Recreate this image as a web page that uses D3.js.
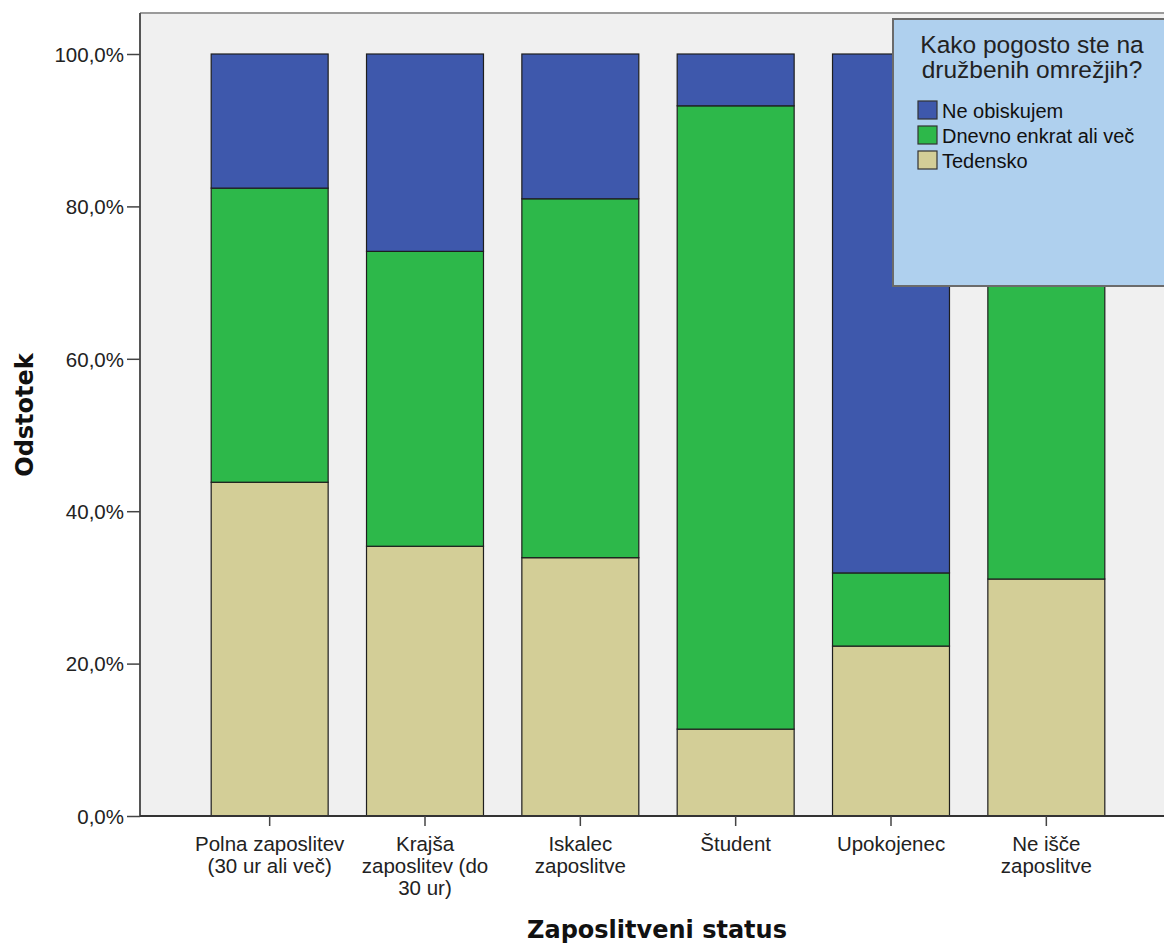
<!DOCTYPE html>
<html><head><meta charset="utf-8">
<script src="https://cdn.jsdelivr.net/npm/d3@7/dist/d3.min.js"></script>
<style>body{margin:0;background:#fff}svg{display:block}</style>
</head><body><svg id="c" width="1164" height="945"></svg>
<script>
const categories = ["Polna zaposlitev|(30 ur ali več)", "Krajša|zaposlitev (do|30 ur)", "Iskalec|zaposlitve", "Študent", "Upokojenec", "Ne išče|zaposlitve"];
const seriesNames = ["Tedensko", "Dnevno enkrat ali več", "Ne obiskujem"];
const tedensko = [43.8, 35.4, 33.9, 11.4, 22.3, 31.1];
const dnevno = [38.6, 38.7, 47.1, 81.8, 9.6, 47.0];
const neObiskujem = [17.6, 25.9, 19.0, 6.8, 68.1, 21.9];
const yTicks = [0, 20, 40, 60, 80, 100];
const legendOrder = ["Ne obiskujem", "Dnevno enkrat ali več", "Tedensko"];
const colors = {"Tedensko": "#d3ce97", "Dnevno enkrat ali več": "#2db84a", "Ne obiskujem": "#3e58ac"};

const svg = d3.select("#c");
const plotL = 140, plotR = 1164, plotT = 13, plotB = 816;
const sans = "Liberation Sans, Arial, sans-serif";
const x = d3.scaleBand().domain(categories).range([192, 1124]).paddingInner(0.247).paddingOuter(0.1235);
const y = d3.scaleLinear().domain([0, 100]).range([816, 54]);

svg.append("rect").attr("x", plotL).attr("y", plotT).attr("width", plotR - plotL).attr("height", plotB - plotT).attr("fill", "#f0f0f0");
svg.append("line").attr("x1", plotL).attr("x2", plotR).attr("y1", plotT).attr("y2", plotT).attr("stroke", "#9a9a9a").attr("stroke-width", 2);

const rows = categories.map((c, i) => ({cat: c, "Tedensko": tedensko[i], "Dnevno enkrat ali več": dnevno[i], "Ne obiskujem": neObiskujem[i]}));
const stack = d3.stack().keys(seriesNames)(rows);
svg.append("g").selectAll("g").data(stack).join("g").attr("fill", d => colors[d.key])
  .selectAll("rect").data(d => d).join("rect")
  .attr("x", d => x(d.data.cat)).attr("width", x.bandwidth())
  .attr("y", d => y(d[1])).attr("height", d => y(d[0]) - y(d[1]))
  .attr("stroke", "#1e1e1e").attr("stroke-width", 1.2);

// y axis
const ya = svg.append("g").attr("transform", `translate(${plotL},0)`)
  .call(d3.axisLeft(y).tickValues(yTicks).tickSize(13).tickPadding(3).tickFormat(d => d3.format(".1f")(d).replace(".", ",") + "%"));
ya.select(".domain").attr("stroke", "#555").attr("stroke-width", 2).attr("d", `M0,${plotT}V${plotB}`);
ya.selectAll(".tick line").attr("stroke", "#444").attr("stroke-width", 1.5);
ya.selectAll("text").attr("font-family", sans).attr("font-size", 20.5).attr("fill", "#222").attr("dy", "0.36em");

// x axis
const xa = svg.append("g").attr("transform", `translate(0,${plotB})`)
  .call(d3.axisBottom(x).tickSize(10).tickFormat(""));
xa.select(".domain").attr("stroke", "#333").attr("stroke-width", 2).attr("d", `M${plotL},0H${plotR}`);
xa.selectAll(".tick line").attr("stroke", "#444").attr("stroke-width", 1.5);
xa.selectAll(".tick").each(function(d) {
  const t = d3.select(this).append("text").attr("text-anchor", "middle").attr("fill", "#222")
    .attr("font-family", sans).attr("font-size", 20.5);
  d.split("|").forEach((line, i) => t.append("tspan").attr("x", 0).attr("y", 35 + i * 22).text(line));
});

// axis titles
svg.append("text").attr("transform", "translate(33,415) rotate(-90)").attr("text-anchor", "middle")
  .attr("font-family", "DejaVu Sans, sans-serif").attr("font-weight", "bold").attr("font-size", 24).attr("fill", "#111").text("Odstotek");
svg.append("text").attr("x", 657).attr("y", 938).attr("text-anchor", "middle")
  .attr("font-family", "DejaVu Sans, sans-serif").attr("font-weight", "bold").attr("font-size", 24).attr("fill", "#111").text("Zaposlitveni status");

// legend
const lg = svg.append("g");
lg.append("rect").attr("x", 893).attr("y", 19).attr("width", 280).attr("height", 267).attr("fill", "#afd0ee").attr("stroke", "#6b6b6b").attr("stroke-width", 2);
lg.append("text").attr("x", 1032).attr("y", 53).attr("text-anchor", "middle").attr("font-family", sans).attr("font-size", 24.5).attr("fill", "#222").text("Kako pogosto ste na");
lg.append("text").attr("x", 1032).attr("y", 78).attr("text-anchor", "middle").attr("font-family", sans).attr("font-size", 24.5).attr("fill", "#222").text("družbenih omrežjih?");
legendOrder.forEach((k, i) => {
  const yy = 101 + i * 25;
  lg.append("rect").attr("x", 918).attr("y", yy).attr("width", 19).attr("height", 18).attr("fill", colors[k]).attr("stroke", "#333").attr("stroke-width", 1.2);
  lg.append("text").attr("x", 942).attr("y", yy + 17).attr("font-family", sans).attr("font-size", 20).attr("fill", "#111").text(k);
});
</script></body></html>
